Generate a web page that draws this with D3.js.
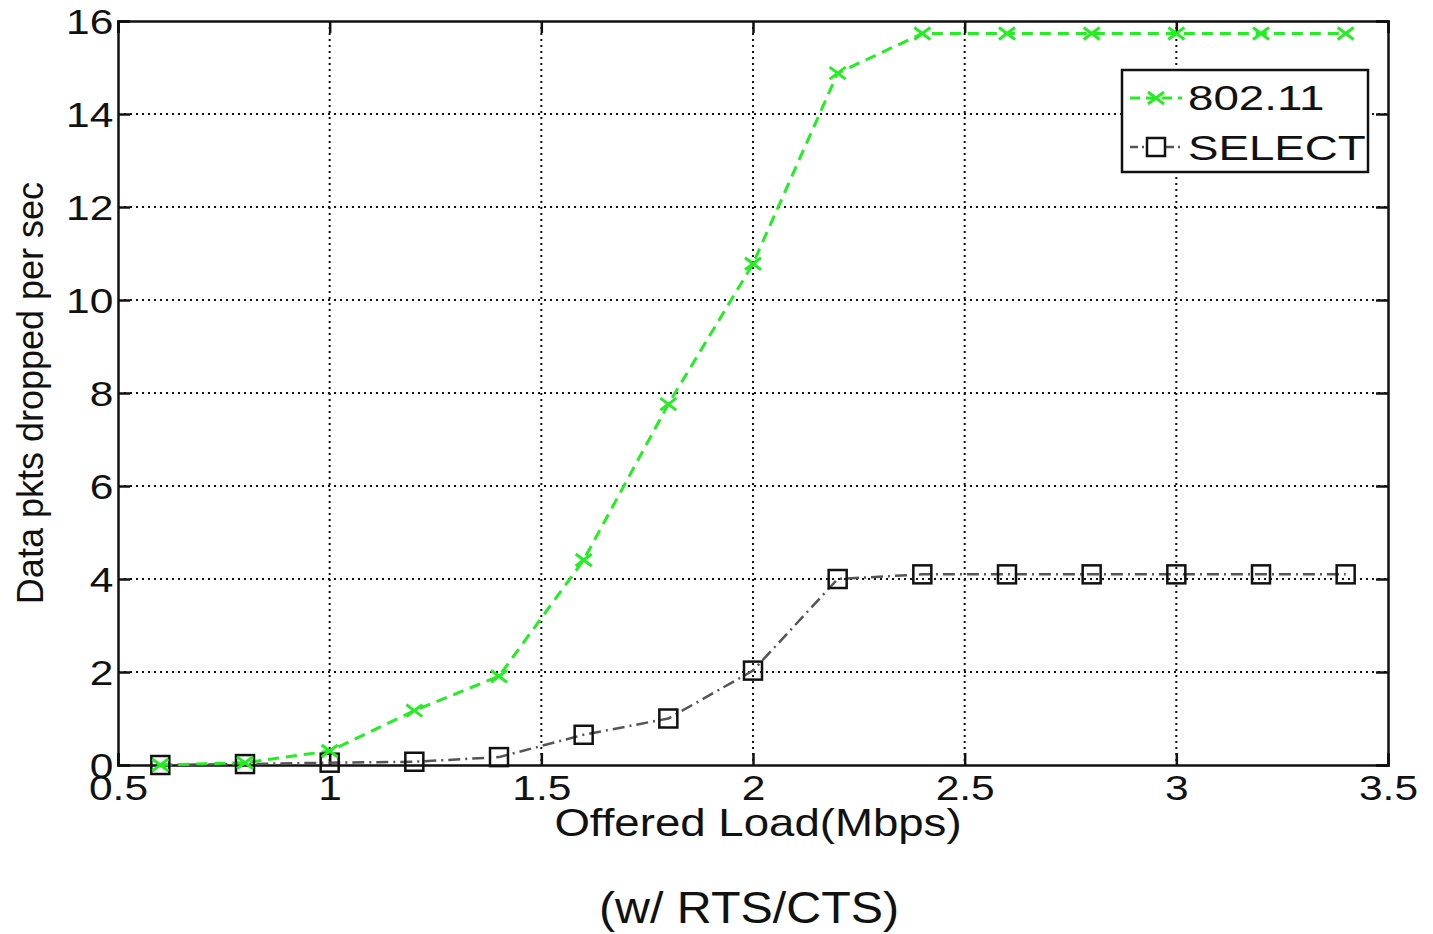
<!DOCTYPE html>
<html>
<head>
<meta charset="utf-8">
<script src="https://cdn.jsdelivr.net/npm/d3@7"></script>
<style>
  body { margin: 0; background: #fff; }
  text { font-family: "Liberation Sans", Arial, sans-serif; fill: #111; }
</style>
</head>
<body>
<div id="chart"></div>
<script>
const W = 1433, H = 934;
const margin = {top: 21, right: 45, bottom: 169, left: 118};
const width = W - margin.left - margin.right;
const height = H - margin.top - margin.bottom;

// data
const load = [0.6, 0.8, 1.0, 1.2, 1.4, 1.6, 1.8, 2.0, 2.2, 2.4, 2.6, 2.8, 3.0, 3.2, 3.4];
const ieee80211 = [0.0, 0.05, 0.3, 1.17, 1.91, 4.41, 7.76, 10.78, 14.88, 15.73, 15.73, 15.73, 15.73, 15.73, 15.73];
const select = [0.0, 0.02, 0.05, 0.07, 0.17, 0.65, 1.0, 2.03, 4.0, 4.1, 4.1, 4.1, 4.1, 4.1, 4.1];
const xTicks = [0.5, 1, 1.5, 2, 2.5, 3, 3.5];
const yTicks = [0, 2, 4, 6, 8, 10, 12, 14, 16];

const svg = d3.select('#chart').append('svg')
  .attr('width', W).attr('height', H);
const g = svg.append('g').attr('transform', `translate(${margin.left},${margin.top})`);

const x = d3.scaleLinear().domain([0.5, 3.5]).range([0, width]);
const y = d3.scaleLinear().domain([0, 16]).range([height, 0]);

// grid
g.append('g')
  .selectAll('line').data(xTicks.slice(1, -1)).enter().append('line')
  .attr('x1', d => x(d)).attr('x2', d => x(d))
  .attr('y1', 0).attr('y2', height)
  .attr('stroke', '#111').attr('stroke-width', 2).attr('stroke-dasharray', '2,4');
g.append('g')
  .selectAll('line').data(yTicks.slice(1, -1)).enter().append('line')
  .attr('x1', 0).attr('x2', width)
  .attr('y1', d => y(d)).attr('y2', d => y(d))
  .attr('stroke', '#111').attr('stroke-width', 2).attr('stroke-dasharray', '2,4');

// axes, ticks inside, MATLAB style
const fs = '36px';
const ax = g.append('g').attr('transform', `translate(0,${height})`)
  .call(d3.axisBottom(x).tickValues(xTicks).tickFormat(d3.format('')).tickSize(-12).tickPadding(13));
const ay = g.append('g')
  .call(d3.axisLeft(y).tickValues(yTicks).tickSize(-12).tickPadding(4));
const axTop = g.append('g')
  .call(d3.axisTop(x).tickValues(xTicks).tickSize(-12).tickFormat(''));
const ayRight = g.append('g').attr('transform', `translate(${width},0)`)
  .call(d3.axisRight(y).tickValues(yTicks).tickSize(-12).tickFormat(''));
[ax, ay, axTop, ayRight].forEach(a => {
  a.select('.domain').attr('stroke', '#111').attr('stroke-width', 2.5);
  a.selectAll('.tick line').attr('stroke', '#111').attr('stroke-width', 2.5);
  a.selectAll('.tick text').style('font-size', fs).style('font-family', '"Liberation Sans", Arial, sans-serif')
    .attr('fill', '#111').attr('transform', 'scale(1.18,1)');
});
ax.selectAll('.tick text').attr('dy', '0.62em');
ay.selectAll('.tick text').attr('dy', '0.36em');

// lines
const line = d3.line().x((d, i) => x(load[i])).y(d => y(d));

g.append('path').datum(select)
  .attr('d', line).attr('fill', 'none')
  .attr('stroke', '#555').attr('stroke-width', 2.5)
  .attr('stroke-dasharray', '12,5,2,5');
g.append('path').datum(ieee80211)
  .attr('d', line).attr('fill', 'none')
  .attr('stroke', '#22ee22').attr('stroke-width', 3)
  .attr('stroke-dasharray', '11,7');

// markers
const sq = 9;
g.selectAll('.sq').data(select).enter().append('rect')
  .attr('x', (d, i) => x(load[i]) - sq).attr('y', d => y(d) - sq)
  .attr('width', 2 * sq).attr('height', 2 * sq)
  .attr('fill', 'none').attr('stroke', '#111').attr('stroke-width', 2.5);
const cr = 8;
g.selectAll('.cx').data(ieee80211).enter().append('path')
  .attr('d', (d, i) => {
    const cx = x(load[i]), cy = y(d);
    return `M${cx - cr},${cy - cr * 0.75}L${cx + cr},${cy + cr * 0.75}M${cx - cr},${cy + cr * 0.75}L${cx + cr},${cy - cr * 0.75}`;
  })
  .attr('stroke', '#22ee22').attr('stroke-width', 3).attr('fill', 'none');

// legend
const lg = svg.append('g').attr('transform', 'translate(1122,70)');
lg.append('rect').attr('width', 246).attr('height', 102)
  .attr('fill', '#fff').attr('stroke', '#111').attr('stroke-width', 2.5);
lg.append('line').attr('x1', 8).attr('x2', 60).attr('y1', 28).attr('y2', 28)
  .attr('stroke', '#22ee22').attr('stroke-width', 3).attr('stroke-dasharray', '10,6');
lg.append('path').attr('d', `M${34 - cr},${28 - 6}L${34 + cr},${28 + 6}M${34 - cr},${28 + 6}L${34 + cr},${28 - 6}`)
  .attr('stroke', '#22ee22').attr('stroke-width', 3);
lg.append('line').attr('x1', 8).attr('x2', 60).attr('y1', 77).attr('y2', 77)
  .attr('stroke', '#555').attr('stroke-width', 2.5).attr('stroke-dasharray', '8,4,2,4');
lg.append('rect').attr('x', 34 - sq).attr('y', 77 - sq).attr('width', 2 * sq).attr('height', 2 * sq)
  .attr('fill', '#fff').attr('stroke', '#111').attr('stroke-width', 2.5);
lg.append('text').attr('transform', 'translate(66,40) scale(1.27,1)').style('font-size', fs).text('802.11');
lg.append('text').attr('transform', 'translate(66,90) scale(1.27,1)').style('font-size', fs).text('SELECT');

// axis titles
svg.append('text')
  .attr('transform', `translate(758,836) scale(1.2,1)`)
  .attr('text-anchor', 'middle').style('font-size', '38px')
  .text('Offered Load(Mbps)');
svg.append('text')
  .attr('transform', `translate(30,${margin.top + height / 2}) rotate(-90)`)
  .attr('text-anchor', 'middle').attr('dy', '0.35em').style('font-size', fs)
  .text('Data pkts dropped per sec');

// caption
svg.append('text')
  .attr('transform', 'translate(749,923) scale(1.1,1)')
  .attr('text-anchor', 'middle').style('font-size', '44px')
  .text('(w/ RTS/CTS)');
</script>
</body>
</html>
